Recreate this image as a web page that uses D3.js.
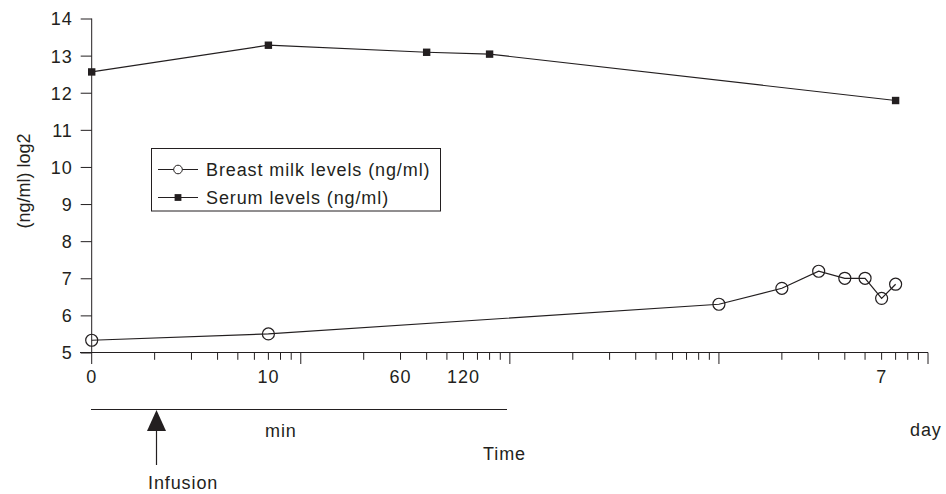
<!DOCTYPE html>
<html><head><meta charset="utf-8">
<script src="https://cdn.jsdelivr.net/npm/d3@7"></script>
<style>body{margin:0;background:#fff}text{font-family:"Liberation Sans",Arial,sans-serif;fill:#231f20}</style>
</head><body>
<svg id="c" width="946" height="494"></svg>
<script>
// positions on the broken log time axis (1 = time 0)
const milkX = [1, 7, 1000, 2000, 3000, 4000, 5000, 6000, 7000];
const milkY = [5.33, 5.50, 6.30, 6.73, 7.19, 7.00, 7.00, 6.46, 6.84];
const serumX = [1, 7, 40, 80, 7000];
const serumY = [12.56, 13.28, 13.09, 13.04, 11.79];
const yTicks = [5, 6, 7, 8, 9, 10, 11, 12, 13, 14];
const xTickLabels = [{v: 1, t: "0"}, {v: 7, t: "10"}, {v: 30, t: "60"}, {v: 60, t: "120"}, {v: 6000, t: "7"}];
const legendItems = ["Breast milk levels (ng/ml)", "Serum levels (ng/ml)"];

const ink = "#231f20";
const fs = "18px", ls = "0.9px";
const svg = d3.select("#c");
const x = d3.scaleLog().domain([1, 10000]).range([91.7, 928]);
const y = d3.scaleLinear().domain([5, 14]).range([352.5, 18.5]);

// y axis
const ya = svg.append("g").attr("transform", "translate(91.7,0)")
  .call(d3.axisLeft(y).tickValues(yTicks).tickSize(11).tickPadding(8).tickSizeOuter(0));
ya.select(".domain").remove();
ya.selectAll("line").attr("stroke", ink);
ya.selectAll("text").style("font-size", fs).style("letter-spacing", ls).style("fill", ink).attr("dy", "0.36em");
svg.append("line").attr("x1", 91.7).attr("x2", 91.7).attr("y1", y(14)).attr("y2", 364).attr("stroke", ink);

// x axis line
svg.append("line").attr("x1", 80).attr("x2", x(10000)).attr("y1", y(5)).attr("y2", y(5)).attr("stroke", ink);
const minor = [];
for (let k = 0; k < 4; k++) for (let m = 2; m <= 10; m++) minor.push(m * Math.pow(10, k));
svg.append("g").selectAll("line").data(minor).join("line")
  .attr("x1", d => x(d)).attr("x2", d => x(d))
  .attr("y1", y(5)).attr("y2", d => y(5) + (Math.abs(Math.log10(d) % 1) < 1e-9 ? 11.5 : 7.3))
  .attr("stroke", ink);
svg.append("g").selectAll("text").data(xTickLabels).join("text")
  .attr("x", d => x(d.v)).attr("y", 383).attr("text-anchor", "middle")
  .style("font-size", fs).style("letter-spacing", ls).text(d => d.t);

svg.append("text").attr("transform", "translate(29.5,181) rotate(-90)").attr("text-anchor", "middle")
  .style("font-size", "18px").text("(ng/ml) log2");

// lines
const line = d3.line().x(d => x(d[0])).y(d => y(d[1]));
const milk = milkX.map((v, i) => [v, milkY[i]]);
const serum = serumX.map((v, i) => [v, serumY[i]]);
svg.append("path").attr("d", line(serum)).attr("fill", "none").attr("stroke", ink).attr("stroke-width", 1.2);
svg.append("path").attr("d", line(milk)).attr("fill", "none").attr("stroke", ink).attr("stroke-width", 1.2);
svg.append("g").selectAll("rect").data(serum).join("rect")
  .attr("x", d => x(d[0]) - 3.7).attr("y", d => y(d[1]) - 3.7).attr("width", 7.4).attr("height", 7.4).attr("fill", ink);
svg.append("g").selectAll("circle").data(milk).join("circle")
  .attr("cx", d => x(d[0])).attr("cy", d => y(d[1])).attr("r", 6)
  .attr("fill", "none").attr("stroke", ink).attr("stroke-width", 1.2);

// legend
svg.append("rect").attr("x", 151.5).attr("y", 148.5).attr("width", 289).attr("height", 62.5)
  .attr("fill", "#fff").attr("stroke", ink);
const lg = svg.append("g").selectAll("g").data(legendItems).join("g")
  .attr("transform", (d, i) => `translate(0,${169.5 + i * 28})`);
lg.append("line").attr("x1", 158).attr("x2", 198).attr("stroke", ink).attr("stroke-width", 1.2);
lg.filter((d, i) => i === 0).append("circle").attr("cx", 178).attr("r", 4.3).attr("fill", "#fff").attr("stroke", ink);
lg.filter((d, i) => i === 1).append("rect").attr("x", 174.6).attr("y", -3.4).attr("width", 6.8).attr("height", 6.8).attr("fill", ink);
lg.append("text").attr("x", 206).attr("dy", "0.36em").style("font-size", fs).style("letter-spacing", ls).text(d => d);

// time annotations
svg.append("line").attr("x1", 91).attr("x2", 507).attr("y1", 409.5).attr("y2", 409.5).attr("stroke", ink);
svg.append("path").attr("d", "M156.5,410 L147,431 L166,431 Z").attr("fill", ink);
svg.append("line").attr("x1", 156.5).attr("x2", 156.5).attr("y1", 430).attr("y2", 465).attr("stroke", ink).attr("stroke-width", 1.2);
const ann = [["Infusion", 148, 489], ["min", 265, 436.7], ["Time", 483, 460], ["day", 910, 436]];
svg.append("g").selectAll("text").data(ann).join("text")
  .attr("x", d => d[1]).attr("y", d => d[2]).style("font-size", fs).style("letter-spacing", ls).text(d => d[0]);
</script>
</body></html>
